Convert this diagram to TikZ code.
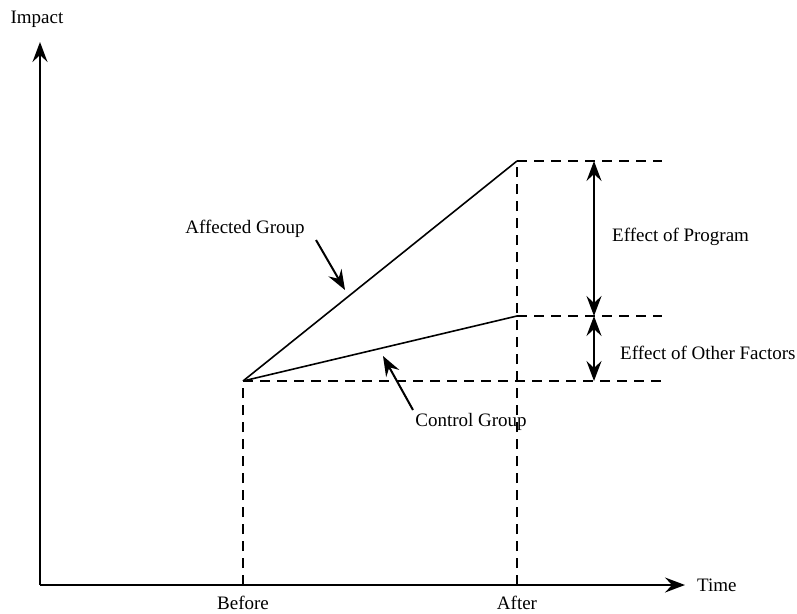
\documentclass[tikz,border=0pt]{standalone}
\usepackage{fontspec}
\setmainfont{Liberation Serif}
\usetikzlibrary{arrows.meta}
\begin{document}
\begin{tikzpicture}[x=1pt,y=-1pt,
  tip/.tip={Stealth[length=20pt,width=15pt,inset=7pt]},
  axis/.style={line width=2pt,-tip},
  dline/.style={line width=1.8pt,dash pattern=on 10pt off 7pt},
  sline/.style={line width=1.6pt},
  ptr/.style={line width=2pt,-tip},
  darr/.style={line width=2pt,tip-tip},
  lbl/.style={font=\fontsize{19}{21}\selectfont,inner sep=0pt}]
\useasboundingbox (0,0) rectangle (797,613);
% coordinates
\coordinate (O) at (40,585);
\coordinate (Ytip) at (40,42);
\coordinate (Xtip) at (685,585);
\coordinate (B) at (243,381);
\coordinate (Bb) at (243,585);
\coordinate (A1) at (517,161);
\coordinate (A2) at (517,316);
\coordinate (Ab) at (517,585);
\coordinate (R1) at (662,161);
\coordinate (R2) at (662,316);
\coordinate (R3) at (662,381);
\coordinate (D1) at (594,161);
\coordinate (D2) at (594,316);
\coordinate (D3) at (594,381);
% axes
\draw[axis] (O) -- (Ytip);
\draw[axis] (O) -- (Xtip);
% dashed guides
\draw[dline] (Bb) -- (B);
\draw[dline] (Ab) -- (A1);
\draw[dline] (A1) -- (R1);
\draw[dline] (A2) -- (R2);
\draw[dline] (B) -- (R3);
% groups
\draw[sline] (B) -- (A1);
\draw[sline] (B) -- (A2);
% double arrows
\draw[darr] (D2) -- (D1);
\draw[darr] (D3) -- (D2);
% labels
\node[lbl] (imp) at (37,19) {Impact};
\node[lbl,anchor=west] (time) at (697,585) {Time};
\node[lbl] (bef) at (243,603) {Before};
\node[lbl] (aft) at (517,603) {After};
\node[lbl,anchor=west] (eop) at (612,237) {Effect of Program};
\node[lbl,anchor=west] (eof) at (620,353) {Effect of Other Factors};
\node[lbl] (ag) at (245,229) {Affected Group};
\node[lbl] (cg) at (471,422) {Control Group};
% pointers
\coordinate (agS) at (316,240);
\coordinate (agE) at (345,290);
\coordinate (cgS) at (413,410);
\coordinate (cgE) at (383,356);
\draw[ptr] (agS) -- (agE);
\draw[ptr] (cgS) -- (cgE);
\end{tikzpicture}
\end{document}
